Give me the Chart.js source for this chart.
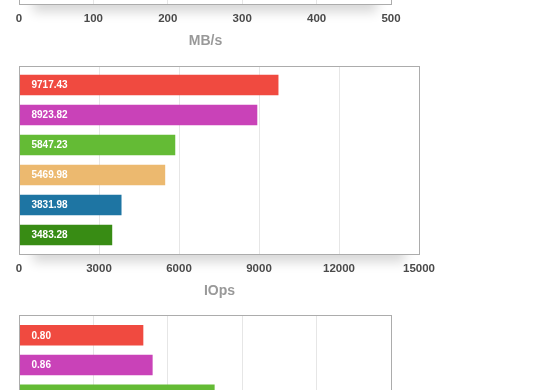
<!DOCTYPE html>
<html>
<head>
<meta charset="utf-8">
<script src="https://cdn.jsdelivr.net/npm/chart.js@4.4.1/dist/chart.umd.min.js"></script>
<style>
  html, body { margin: 0; padding: 0; background: #fff; width: 560px; height: 390px; overflow: hidden; }
  .wrap { position: absolute; left: 0; width: 560px; height: 310px; }
  canvas { display: block; }
</style>
</head>
<body>
<div class="wrap" id="w1" style="top:-250px"><canvas id="c1" width="560" height="310"></canvas></div>
<div class="wrap" id="w2" style="top:0px"><canvas id="c2" width="560" height="310"></canvas></div>
<div class="wrap" id="w3" style="top:249px"><canvas id="c3" width="560" height="310"></canvas></div>
<script>
// ---- data ----
const barColors = ['#f04a40', '#c942b8', '#64bb35', '#ecb96f', '#1e75a3', '#388c14'];

const mbTicks = [0, 100, 200, 300, 400, 500];
const mbValues = []; // bars of this chart lie above the visible area

const iopsTicks = [0, 3000, 6000, 9000, 12000, 15000];
const iopsValues = [9717.43, 8923.82, 5847.23, 5469.98, 3831.98, 3483.28];

const latTicks = [0, 0.48, 0.96, 1.44, 1.92, 2.4];
const latValues = [0.80, 0.86, 1.26]; // only the first three bars are visible

const FONT = "'Liberation Sans', Arial, Helvetica, sans-serif";

const boxPlugin = {
  id: 'box',
  beforeDraw(chart, args, opts) {
    const a = chart.chartArea, ctx = chart.ctx;
    ctx.save();
    ctx.shadowColor = 'rgba(0,0,0,0.16)';
    ctx.shadowBlur = 12;
    ctx.shadowOffsetY = 8;
    ctx.fillStyle = '#fff';
    ctx.fillRect(a.left + 14, a.bottom - 30, a.right - a.left - 28, 30);
    ctx.restore();
    ctx.fillStyle = '#fff';
    ctx.fillRect(a.left, a.top, a.right - a.left, a.bottom - a.top);
  },
  afterDatasetsDraw(chart, args, opts) {
    const a = chart.chartArea, ctx = chart.ctx;
    ctx.save();
    ctx.strokeStyle = '#acacac';
    ctx.lineWidth = 1;
    ctx.strokeRect(a.left + 0.5, a.top + 0.5, a.right - a.left, a.bottom - a.top);
    // value labels inside bars
    const meta = chart.getDatasetMeta(0);
    ctx.fillStyle = '#fff';
    ctx.font = 'bold 10px ' + FONT;
    ctx.textBaseline = 'middle';
    ctx.textAlign = 'left';
    meta.data.forEach((bar, i) => {
      const v = chart.data.datasets[0].data[i].x;
      ctx.fillText(v.toFixed(2), bar.base + 12, bar.y + 0.5);
    });
    // axis title
    if (opts.title) {
      ctx.fillStyle = '#999';
      ctx.font = 'bold 14px ' + FONT;
      ctx.textAlign = 'center';
      ctx.fillText(opts.title, (a.left + a.right) / 2 + 0.5, a.bottom + 37);
    }
    ctx.restore();
  }
};

function makeChart(id, values, ticks, title, rightPad, yMin) {
  const data = values.map((v, i) => ({ x: v, y: i }));
  return new Chart(document.getElementById(id), {
    type: 'bar',
    data: {
      datasets: [{
        data: data,
        backgroundColor: barColors.slice(0, values.length),
        borderWidth: 0,
        barThickness: 20
      }]
    },
    options: {
      indexAxis: 'y',
      responsive: false,
      animation: false,
      events: [],
      layout: { padding: { top: 66, left: 19, right: rightPad, bottom: 12 } },
      plugins: { legend: { display: false }, tooltip: { enabled: false }, box: { title: title } },
      scales: {
        y: {
          type: 'linear',
          display: false,
          reverse: true,
          offset: false,
          grid: { offset: false },
          min: yMin,
          max: 5.633
        },
        x: {
          type: 'linear',
          offset: false,
          min: ticks[0],
          max: ticks[ticks.length - 1],
          afterBuildTicks(scale) { scale.ticks = ticks.map(v => ({ value: v })); },
          afterFit(scale) { scale.height = 44; },
          border: { display: false },
          grid: { color: '#e6e6e6', drawTicks: false, lineWidth: 1 },
          ticks: {
            padding: 8,
            color: '#4a4a4a',
            font: { family: FONT, size: 11.5, weight: 'bold' },
            maxRotation: 0,
            autoSkip: false,
            callback: v => String(v)
          },
          title: { display: false }
        }
      }
    },
    plugins: [boxPlugin]
  });
}

makeChart('c1', mbValues, mbTicks, 'MB/s', 169, -0.633);
makeChart('c2', iopsValues, iopsTicks, 'IOps', 141, -0.633);
makeChart('c3', latValues, latTicks, 'ms', 169, -0.68);
</script>
</body>
</html>
